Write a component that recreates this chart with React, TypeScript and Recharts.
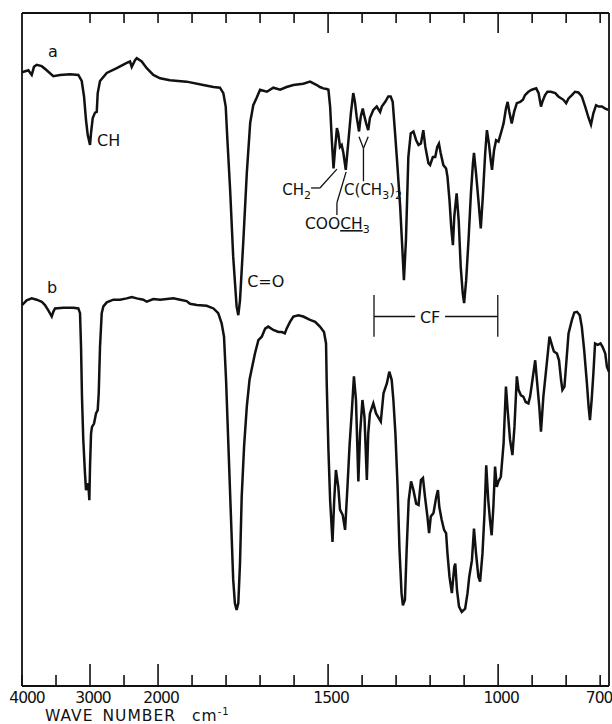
import React from 'react';
import { LineChart, Line, XAxis, YAxis, ReferenceLine, ReferenceDot } from 'recharts';

// IR spectra, wavenumber (cm-1) vs transmittance (%)
const aWavenumber = [
  4000, 3907, 3857, 3824, 3784, 3710, 3637, 3540, 3441, 3294,
  3172, 3122, 3088, 3059, 3034, 3000, 2985, 2960, 2926, 2901,
  2887, 2853, 2754, 2607, 2460, 2412, 2387, 2338, 2313, 2240,
  2166, 2069, 1994, 1965, 1916, 1867, 1837, 1818, 1808, 1801,
  1796, 1788, 1779, 1769, 1764, 1759, 1749, 1739, 1729, 1720,
  1710, 1700, 1680, 1661, 1641, 1622, 1602, 1573, 1553, 1533,
  1524, 1514, 1504, 1499, 1494, 1489, 1484, 1479, 1474, 1470,
  1465, 1460, 1455, 1448, 1440, 1433, 1426, 1421, 1416, 1409,
  1404, 1398, 1393, 1388, 1382, 1377, 1367, 1357, 1347, 1342,
  1332, 1323, 1316, 1310, 1303, 1296, 1288, 1282, 1277, 1271,
  1264, 1257, 1249, 1241, 1234, 1227, 1220, 1214, 1205, 1200,
  1192, 1185, 1179, 1174, 1169, 1161, 1153, 1149, 1143, 1138,
  1133, 1129, 1122, 1116, 1110, 1104, 1100, 1094, 1087, 1080,
  1074, 1071, 1065, 1058, 1051, 1045, 1038, 1033, 1027, 1022,
  1018, 1012, 1006, 999, 992, 984, 977, 972, 967, 960,
  953, 945, 935, 927, 921, 911, 901, 888, 881, 874,
  870, 862, 855, 845, 832, 823, 808, 800, 793, 783,
  774, 764, 754, 744, 734, 727, 720, 712, 704, 695,
  685, 676,
];
const aTransmittance = [
  91.2, 91.5, 90.8, 92.0, 92.3, 92.1, 91.5, 90.6, 90.8, 90.9,
  90.8, 89.9, 87.6, 84.1, 81.9, 80.4, 82.2, 84.4, 85.2, 85.3,
  88.1, 89.9, 91.1, 91.8, 92.6, 92.8, 92.0, 93.0, 93.3, 92.8,
  91.8, 90.8, 90.3, 90.0, 89.8, 89.3, 89.0, 88.9, 88.1, 86.1,
  81.1, 73.7, 63.8, 56.4, 55.1, 57.3, 66.3, 76.2, 83.7, 86.3,
  87.4, 88.6, 88.3, 88.9, 88.6, 89.0, 89.3, 89.5, 89.8, 89.3,
  89.0, 88.8, 88.7, 88.6, 86.1, 81.1, 76.9, 80.1, 82.9, 82.1,
  80.1, 80.4, 79.2, 76.7, 81.1, 85.1, 88.1, 86.8, 84.6, 82.4,
  84.6, 85.8, 84.6, 83.6, 82.6, 84.4, 85.6, 86.1, 85.3, 86.1,
  86.8, 87.6, 87.6, 86.8, 82.1, 77.2, 71.2, 65.3, 60.3, 66.3,
  78.6, 82.1, 82.4, 81.1, 80.4, 80.6, 82.6, 80.1, 77.7, 77.4,
  78.6, 78.6, 80.1, 80.6, 79.2, 77.4, 76.9, 75.7, 72.2, 68.2,
  65.5, 69.7, 73.2, 69.2, 62.3, 58.3, 56.9, 60.3, 66.3, 73.2,
  77.7, 79.2, 76.2, 72.2, 68.0, 72.7, 79.2, 82.6, 80.6, 78.2,
  76.7, 79.6, 81.1, 80.9, 82.1, 83.6, 85.8, 86.8, 85.3, 83.6,
  85.3, 86.6, 86.8, 87.1, 87.8, 88.3, 88.6, 88.8, 88.1, 86.1,
  86.8, 87.8, 88.3, 88.3, 88.1, 87.6, 87.1, 86.6, 87.3, 87.8,
  88.3, 88.2, 87.6, 86.1, 84.4, 83.4, 85.1, 86.3, 86.1, 86.1,
  85.8, 85.6,
];

const bWavenumber = [
  4000, 3931, 3857, 3784, 3710, 3662, 3613, 3563, 3540, 3515,
  3393, 3246, 3172, 3147, 3132, 3118, 3099, 3074, 3059, 3040,
  3025, 3010, 3000, 2985, 2971, 2941, 2912, 2887, 2872, 2853,
  2828, 2804, 2754, 2657, 2559, 2460, 2387, 2313, 2216, 2166,
  2069, 1994, 1974, 1955, 1935, 1916, 1906, 1886, 1857, 1837,
  1823, 1813, 1806, 1800, 1793, 1786, 1779, 1774, 1769, 1764,
  1759, 1754, 1747, 1739, 1731, 1725, 1715, 1705, 1695, 1685,
  1676, 1661, 1646, 1636, 1627, 1622, 1612, 1602, 1587, 1573,
  1553, 1538, 1524, 1512, 1506, 1504, 1499, 1494, 1487, 1482,
  1477, 1470, 1465, 1457, 1450, 1443, 1437, 1430, 1424, 1418,
  1411, 1406, 1399, 1393, 1386, 1382, 1377, 1367, 1359, 1345,
  1337, 1327, 1320, 1313, 1308, 1302, 1296, 1290, 1284, 1280,
  1274, 1269, 1263, 1256, 1249, 1241, 1234, 1227, 1221, 1215,
  1208, 1203, 1198, 1190, 1182, 1177, 1173, 1166, 1159, 1153,
  1149, 1143, 1136, 1129, 1126, 1121, 1115, 1107, 1097, 1090,
  1085, 1077, 1071, 1065, 1058, 1053, 1046, 1040, 1035, 1029,
  1024, 1019, 1014, 1009, 1004, 999, 992, 984, 977, 972,
  965, 958, 952, 945, 940, 933, 926, 919, 911, 906,
  899, 891, 886, 879, 874, 867, 860, 854, 849, 842,
  836, 827, 821, 815, 811, 805, 799, 793, 783, 776,
  768, 760, 754, 747, 739, 734, 730, 725, 720, 715,
  707, 699, 693, 685, 680, 674,
];
const bTransmittance = [
  56.6, 57.3, 57.6, 57.4, 57.1, 56.6, 55.8, 54.9, 55.6, 56.1,
  56.2, 56.2, 56.1, 55.4, 50.4, 42.9, 36.6, 31.6, 29.1, 29.6,
  30.1, 27.6, 32.6, 37.5, 38.5, 39.0, 40.5, 41.0, 43.5, 50.4,
  55.4, 56.4, 57.0, 57.4, 57.4, 57.6, 57.8, 57.6, 57.4, 57.1,
  57.5, 57.4, 57.5, 57.6, 57.4, 57.2, 56.8, 56.6, 56.5, 56.1,
  55.4, 53.9, 51.9, 45.5, 35.6, 25.7, 15.8, 12.3, 11.3, 12.3,
  18.2, 28.1, 35.6, 41.5, 45.5, 47.0, 49.4, 51.4, 51.9, 53.1,
  53.4, 52.9, 52.6, 52.6, 52.4, 53.1, 54.1, 54.9, 55.1, 54.9,
  54.4, 54.1, 53.4, 52.6, 50.9, 45.0, 35.1, 27.6, 21.4, 27.6,
  32.1, 29.6, 26.2, 25.4, 23.2, 29.6, 35.6, 41.0, 46.0, 42.5,
  30.4, 37.5, 42.5, 40.0, 30.6, 37.5, 40.5, 42.0, 40.5, 39.3,
  43.5, 45.0, 46.7, 45.5, 42.5, 37.5, 30.1, 20.2, 13.8, 12.0,
  12.8, 20.2, 27.6, 30.4, 29.1, 27.1, 26.9, 30.6, 30.9, 28.1,
  25.2, 22.7, 25.2, 25.7, 28.1, 29.1, 26.6, 24.7, 23.2, 22.7,
  19.7, 16.2, 13.8, 17.7, 18.2, 14.3, 11.8, 11.0, 11.5, 13.8,
  16.2, 18.7, 23.4, 19.7, 16.2, 15.5, 19.7, 25.7, 32.8, 27.6,
  24.7, 22.4, 26.6, 32.6, 29.6, 30.4, 31.1, 36.0, 44.5, 41.0,
  36.6, 34.3, 38.5, 46.0, 44.0, 43.2, 43.0, 42.2, 42.0, 43.0,
  45.5, 48.4, 45.5, 41.5, 37.8, 43.0, 46.4, 49.4, 51.9, 50.7,
  49.7, 49.4, 48.4, 45.5, 44.0, 44.5, 48.4, 52.4, 54.4, 55.5,
  55.6, 55.1, 53.4, 49.9, 45.0, 41.5, 39.5, 42.5, 46.4, 50.9,
  50.7, 50.9, 50.4, 49.4, 47.4, 46.7,
];

// axis ticks (cm-1)
const bottomTicks = [4000, 3500, 3000, 2500, 2000, 1900, 1800, 1700, 1600, 1500, 1400, 1300, 1200, 1100, 1000, 900, 800, 700];
const topTicks = [3000, 2500, 2000, 1900, 1800, 1700, 1600, 1500, 1400, 1300, 1200, 1100, 1000, 900, 800, 700];
const tickLabels = [4000, 3000, 2000, 1500, 1000, 700];
const longBottom = [3000, 2000, 1500, 1000];
const longTop = [1500, 1000];
const lowEnd = 674;

const INK = '#111';
const FONT = '"DejaVu Sans", "Liberation Sans", sans-serif';
const W = 604;
const H = 716;
const MARGIN = { top: 5, right: 3, bottom: 0, left: 14 };
const AXIS_H = 38;
const PLOT_H = H - MARGIN.top - AXIS_H;

// chart paper: 500 cm-1 per division above 2000, 100 cm-1 per division below
const toAxis = (wn: number) => (wn >= 2000 ? (4000 - wn) / 500 : 4 + (2000 - wn) / 100);
const fromAxis = (u: number) => Math.round(u <= 4 ? 4000 - 500 * u : 2000 - 100 * (u - 4));
const maxU = toAxis(lowEnd);

const spectrumA = aWavenumber.map((w, i) => ({ u: toAxis(w), t: aTransmittance[i] }));
const spectrumB = bWavenumber.map((w, i) => ({ u: toAxis(w), t: bTransmittance[i] }));

// leader lines for the band labels: [wn1, t1, wn2, t2]
const leaders: [number, number, number, number][] = [
  [1550, 74.0, 1524, 74.0],
  [1524, 74.0, 1474, 76.8],
  [1474, 70.0, 1474, 71.8],
  [1474, 71.8, 1447, 76.4],
  [1396, 75.0, 1396, 79.9],
  [1396, 79.9, 1409, 81.6],
  [1396, 79.9, 1382, 81.6],
  [1365, 58.1, 1365, 51.9],
  [1001, 58.1, 1001, 51.9],
  [1365, 54.9, 1244, 54.9],
  [1156, 54.9, 1001, 54.9],
];

// one tick per division: mark on the bottom edge, label below, and the
// matching mark hanging from the top edge of the frame
const FrameTick = ({ x, y, payload }: any) => {
  const wn = fromAxis(payload.value);
  const len = longBottom.includes(wn) ? 22 : 11;
  const topLen = longTop.includes(wn) ? 20 : 10;
  const top = y - PLOT_H;
  const shift = wn === 700 ? -1 : wn === 4000 ? 5 : 3;
  return (
    <g>
      <rect x={x - 0.8} y={y - len} width={1.6} height={len} fill={INK} />
      {topTicks.includes(wn) && <rect x={x - 0.8} y={top} width={1.6} height={topLen} fill={INK} />}
      {tickLabels.includes(wn) && (
        <text x={x + shift} y={y + 17} textAnchor="middle" fontSize={15.5} fontFamily={FONT} letterSpacing={-1} fill={INK}>
          {wn}
        </text>
      )}
    </g>
  );
};

const AxisTitle = ({ viewBox }: any) => {
  const { x, y } = viewBox;
  return (
    <text x={x + 23} y={y + 35} fontSize={15.5} fontFamily={FONT} fill={INK} letterSpacing={1}>
      WAVE
      <tspan dx={9}>NUMBER</tspan>
      <tspan dx={16}>cm</tspan>
      <tspan dy={-6} fontSize={10}>-1</tspan>
    </text>
  );
};

const tag = (content: React.ReactNode, size = 16, anchor = 'start') => (p: any) => (
  <text x={p.cx} y={p.cy} fontSize={size} fontFamily={FONT} fill={INK} textAnchor={anchor}>
    {content}
  </text>
);

export default function App() {
  return (
    <div style={{ position: 'absolute', left: 8, top: 8, width: W, height: H }}>
      <LineChart width={W} height={H} margin={MARGIN}>
        <XAxis
          type="number"
          dataKey="u"
          domain={[0, maxU]}
          ticks={bottomTicks.map(toAxis)}
          interval={0}
          tickSize={0}
          tickMargin={0}
          tickLine={false}
          tick={<FrameTick />}
          height={AXIS_H}
          axisLine={{ stroke: INK, strokeWidth: 2 }}
          label={(props: any) => <AxisTitle {...props} />}
        />
        <YAxis type="number" domain={[0, 100]} width={0} hide />

        {/* frame: left, right, top */}
        <ReferenceLine x={0} stroke={INK} strokeWidth={1.8} ifOverflow="visible" />
        <ReferenceLine x={maxU} stroke={INK} strokeWidth={1.8} ifOverflow="visible" />
        <ReferenceLine y={100} stroke={INK} strokeWidth={1.8} ifOverflow="visible" />

        <Line data={spectrumA} dataKey="t" type="linear" stroke={INK} strokeWidth={2.5} dot={false} isAnimationActive={false} />
        <Line data={spectrumB} dataKey="t" type="linear" stroke={INK} strokeWidth={2.5} dot={false} isAnimationActive={false} />

        {leaders.map(([w1, t1, w2, t2], i) => (
          <ReferenceLine
            key={i}
            segment={[{ x: toAxis(w1), y: t1 }, { x: toAxis(w2), y: t2 }]}
            stroke={INK}
            strokeWidth={1.3}
          />
        ))}

        <ReferenceDot x={toAxis(3544)} y={93.5} r={0} shape={tag('a', 16, 'middle')} />
        <ReferenceDot x={toAxis(3559)} y={58.4} r={0} shape={tag('b', 16, 'middle')} />
        <ReferenceDot x={toAxis(2897)} y={80.2} r={0} shape={tag('CH')} />
        <ReferenceDot x={toAxis(1738)} y={59.3} r={0} shape={tag('C=O')} />
        <ReferenceDot
          x={toAxis(1635)}
          y={73.0}
          r={0}
          shape={tag(<>CH<tspan dy={4} fontSize={11}>2</tspan></>, 15)}
        />
        <ReferenceDot
          x={toAxis(1568)}
          y={67.9}
          r={0}
          shape={tag(<>COO<tspan textDecoration="underline">CH</tspan><tspan dy={4} fontSize={11}>3</tspan></>, 15.5)}
        />
        <ReferenceDot
          x={toAxis(1453)}
          y={73.0}
          r={0}
          shape={tag(
            <>C(CH<tspan dy={4} fontSize={11}>3</tspan><tspan dy={-4}>)</tspan><tspan dy={4} fontSize={11}>2</tspan></>,
            15
          )}
        />
        <ReferenceDot x={toAxis(1200)} y={53.9} r={0} shape={tag('CF', 16, 'middle')} />
      </LineChart>
    </div>
  );
}
